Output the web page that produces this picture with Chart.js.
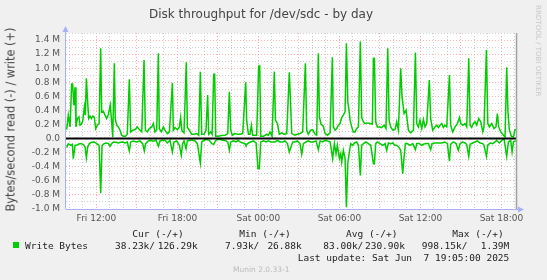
<!DOCTYPE html>
<html>
<head>
<meta charset="utf-8">
<script src="https://cdn.jsdelivr.net/npm/chart.js@4.4.1/dist/chart.umd.min.js"></script>
<style>
  body { margin: 0; background: #f0f0f0; }
  #wrap { position: relative; width: 547px; height: 280px; font-family: 'DejaVu Sans', sans-serif; }
  #wrap canvas { position: absolute; left: 0; top: 0; }
  .t { position: absolute; white-space: pre; line-height: 1; }
  .mono { font-family: 'DejaVu Sans Mono', monospace; font-size: 9.5px; color: #222; }
  #title { left: 149px; top: 8px; font-size: 12px; color: #444; }
  #ylab { left: 0; top: 0; width: 185px; text-align: center; font-size: 11.4px; color: #444;
          transform-origin: 0 0; transform: translate(5.5px, 212px) rotate(-90deg); }
  #rrd { left: 535px; top: 5px; font-size: 7.1px; color: #c8c8c8; writing-mode: vertical-rl; }
  #swatch { position: absolute; left: 13px; top: 242px; width: 6px; height: 6px; background: #00cc00; }
  #munin { left: 233px; top: 266px; font-size: 7.5px; color: #bbb; }
</style>
</head>
<body>
<div id="wrap">
  <canvas id="diskChart" width="547" height="280"></canvas>
  <div class="t" id="title">Disk throughput for /dev/sdc - by day</div>
  <div class="t" id="ylab">Bytes/second read (-) / write (+)</div>
  <div class="t" id="rrd">RRDTOOL / TOBI OETIKER</div>

  <div class="t mono" style="left:132.3px; top:229px">Cur (-/+)</div>
  <div class="t mono" style="left:239.3px; top:229px">Min (-/+)</div>
  <div class="t mono" style="left:346px; top:229px">Avg (-/+)</div>
  <div class="t mono" style="left:452.3px; top:229px">Max (-/+)</div>

  <div id="swatch"></div>
  <div class="t mono" style="left:25px; top:241px">Write Bytes</div>
  <div class="t mono" style="left:115px; top:241px">38.23k/</div>
  <div class="t mono" style="right:349.3px; top:241px">126.29k</div>
  <div class="t mono" style="left:225px; top:241px">7.93k/</div>
  <div class="t mono" style="right:245.3px; top:241px">26.88k</div>
  <div class="t mono" style="left:323.3px; top:241px">83.00k/</div>
  <div class="t mono" style="right:142px; top:241px">230.90k</div>
  <div class="t mono" style="left:421.7px; top:241px">998.15k/</div>
  <div class="t mono" style="right:37.7px; top:241px">1.39M</div>

  <div class="t mono" style="right:37.7px; top:252.5px">Last update: Sat Jun  7 19:05:00 2025</div>
  <div class="t" id="munin">Munin 2.0.33-1</div>
</div>
<script>
// time in hours since Fri 00:00, values in kB/s
const writeHours = [
  9.80,9.92,10.05,10.17,10.24,10.34,10.42,10.49,10.59,10.71,
  10.79,10.89,10.99,11.11,11.18,11.26,11.33,11.43,11.53,11.63,
  11.73,11.85,11.95,12.07,12.20,12.32,12.39,12.52,12.64,12.76,
  12.89,13.03,13.13,13.21,13.33,13.40,13.50,13.63,13.75,13.87,
  14.00,14.15,14.29,14.44,14.54,14.69,14.86,15.03,15.18,15.36,
  15.53,15.63,15.78,15.92,16.10,16.22,16.34,16.47,16.59,16.66,
  16.81,16.96,17.08,17.26,17.41,17.63,17.70,17.82,18.00,18.15,
  18.24,18.34,18.49,18.66,18.74,18.89,19.06,19.23,19.43,19.58,
  19.70,19.80,19.97,20.12,20.24,20.32,20.47,20.57,20.69,20.76,
  20.84,21.03,21.28,21.53,21.73,21.85,21.95,22.07,22.24,22.44,
  22.64,22.84,23.06,23.13,23.26,23.38,23.48,23.58,23.75,23.87,
  24.02,24.10,24.17,24.37,24.62,24.74,24.86,25.01,25.18,25.26,
  25.41,25.55,25.73,25.90,26.10,26.29,
  26.47,26.71,26.89,27.08,27.28,27.48,27.58,27.70,27.87,28.02,
  28.20,28.32,28.44,28.52,28.64,28.81,28.94,29.11,29.31,29.48,
  29.55,29.68,29.80,29.92,30.05,30.17,30.29,30.42,30.52,30.62,
  30.71,30.79,30.91,31.03,31.16,31.28,31.41,31.55,31.65,31.78,
  31.90,32.07,32.27,32.44,32.52,32.59,32.69,32.81,32.96,33.13,
  33.31,33.45,33.58,33.68,33.80,33.95,34.12,34.24,34.37,34.54,
  34.64,34.79,34.94,35.11,35.28,35.48,35.63,35.73,35.85,35.97,
  36.10,36.22,36.34,36.47,36.66,36.76,36.91,37.08,37.21,37.33,
  37.45,37.58,37.70,37.82,37.95,38.15,38.24,38.39,38.57,38.74,
  38.89,38.99,39.13,39.31,39.43,39.58,39.68,39.80,39.92,40.05,
  40.17,40.32,40.47,40.62,40.71,40.89,40.99,41.11,41.28,41.45,
  41.60,41.70,41.80,41.95,42.15,42.27,42.39,42.49,42.59,42.74,
  42.89,43.01,43.08
];
const writeKB = [
  128,333,166,775,775,476,728,166,285,309,
  190,204,252,452,333,856,594,285,319,285,
  319,300,143,190,214,1284,380,390,333,285,
  347,476,238,24,1070,285,190,166,119,48,
  33,33,62,842,95,119,128,166,128,95,
  1117,119,95,143,166,214,95,128,1213,143,
  95,166,119,71,95,794,119,157,128,166,
  300,109,81,1084,157,119,62,62,71,48,
  951,62,62,119,618,62,95,62,913,913,
  33,33,43,48,71,666,119,48,71,62,
  62,71,799,262,62,62,190,48,48,48,
  1032,1032,33,33,62,48,95,33,951,262,
  214,62,81,62,71,942,
  71,48,62,71,95,1070,119,62,119,128,
  62,48,1213,309,204,176,71,48,81,1155,
  166,119,143,190,214,300,333,380,1355,523,
  404,262,166,95,95,143,166,1379,300,238,
  214,223,214,204,1141,1141,238,166,166,157,
  190,143,1284,262,166,119,128,238,119,999,
  594,357,404,119,81,119,1222,214,166,262,
  143,271,166,214,832,285,119,166,190,157,
  190,214,157,190,166,903,190,95,166,214,
  300,214,190,214,166,1141,190,157,214,238,
  190,285,238,95,166,1260,214,166,214,143,
  166,357,166,95,48,24,1013,357,119,33,
  24,128,126
];

const readHours = [
  9.80,9.92,10.10,10.22,10.29,10.42,10.54,10.66,10.84,11.03,
  11.16,11.26,11.36,11.48,11.65,11.85,12.02,12.20,12.32,12.42,
  12.57,12.71,12.89,13.01,13.13,13.26,13.45,13.63,13.80,13.95,
  14.12,14.29,14.44,14.54,14.74,14.99,15.23,15.43,15.55,15.65,
  15.85,16.02,16.22,16.42,16.59,16.71,16.91,17.08,17.26,17.45,
  17.63,17.75,17.95,18.15,18.29,18.39,18.49,18.64,18.74,18.94,
  19.13,19.31,19.48,19.70,19.80,19.97,20.17,20.37,20.54,20.69,
  20.81,20.96,21.16,21.36,21.53,21.73,21.85,21.95,22.15,22.34,
  22.52,22.64,22.84,23.01,23.08,23.26,23.43,23.63,23.83,23.97,
  24.07,24.17,24.37,24.57,24.74,24.91,25.11,25.23,25.41,25.60,
  25.80,25.97,26.15,26.29,
  26.54,26.71,26.89,27.08,27.21,27.33,27.53,27.70,27.87,28.07,
  28.27,28.44,28.57,28.76,28.94,29.11,29.31,29.43,29.50,29.63,
  29.75,29.85,30.00,30.10,30.17,30.29,30.42,30.52,30.62,30.74,
  30.84,30.99,31.11,31.28,31.41,31.55,31.65,31.78,31.97,32.15,
  32.32,32.52,32.59,32.69,32.81,33.01,33.21,33.38,33.50,33.63,
  33.80,33.95,34.12,34.24,34.39,34.54,34.69,34.79,34.89,35.03,
  35.23,35.43,35.63,35.73,35.92,36.10,36.22,36.42,36.59,36.76,
  36.86,37.08,37.33,37.58,37.82,38.00,38.15,38.24,38.44,38.64,
  38.81,38.94,39.13,39.31,39.43,39.58,39.68,39.87,40.05,40.22,
  40.42,40.62,40.71,40.89,40.99,41.16,41.36,41.53,41.65,41.85,
  42.02,42.20,42.39,42.52,42.69,42.79,42.89,43.03,43.08
];
const readKB = [
  -128,-71,-95,-81,-285,-95,-95,-81,-71,-81,
  -119,-271,-119,-71,-52,-48,-71,-95,-775,-95,
  -71,-62,-71,-109,-71,-48,-52,-62,-52,-48,
  -62,-48,-176,-48,-33,-48,-33,-71,-176,-71,
  -33,-24,-38,-24,-109,-33,-24,-24,-62,-24,
  -190,-48,-33,-95,-238,-71,-33,-143,-33,-24,
  -24,-33,-71,-347,-48,-24,-14,-24,-71,-81,
  -33,-14,-14,-24,-24,-48,-166,-48,-33,-48,
  -24,-48,-62,-71,-95,-62,-48,-33,-62,-428,
  -428,-48,-33,-48,-33,-48,-48,-48,-24,-48,
  -48,-33,-71,-190,
  -48,-48,-33,-71,-223,-71,-48,-33,-48,-48,
  -33,-157,-33,-48,-24,-33,-48,-190,-285,-71,
  -214,-95,-285,-214,-333,-166,-285,-975,-357,-190,
  -71,-95,-62,-48,-95,-523,-95,-71,-48,-71,
  -95,-357,-357,-71,-48,-71,-95,-71,-166,-62,
  -71,-62,-95,-95,-119,-166,-499,-262,-71,-71,
  -95,-71,-157,-71,-71,-95,-81,-71,-71,-157,
  -71,-62,-62,-62,-48,-71,-319,-81,-48,-71,
  -166,-71,-48,-62,-81,-252,-81,-62,-48,-33,
  -62,-71,-95,-252,-95,-62,-71,-48,-24,-62,
  -24,-8,-252,-48,-24,-190,-48,-33,-38
];

const xTickHours = [12, 18, 24, 30, 36, 42];
const xTickLabels = ['Fri 12:00', 'Fri 18:00', 'Sat 00:00', 'Sat 06:00', 'Sat 12:00', 'Sat 18:00'];
const yTickValues = [-1000, -800, -600, -400, -200, 0, 200, 400, 600, 800, 1000, 1200, 1400];
const yTickLabels = ['-1.0 M', '-0.8 M', '-0.6 M', '-0.4 M', '-0.2 M', '0.0', '0.2 M', '0.4 M', '0.6 M', '0.8 M', '1.0 M', '1.2 M', '1.4 M'];

const majorGrid = 'rgba(255, 110, 110, 0.55)';
const minorGrid = '#cfcfcf';
const axisColor = '#a8b0f8';

Chart.defaults.font.family = "'DejaVu Sans', sans-serif";
Chart.defaults.font.size = 9;
Chart.defaults.color = '#555';

// white plot area, zero rule, munin style axes
const muninFrame = {
  id: 'muninFrame',
  beforeDraw(chart) {
    const { ctx, chartArea: a } = chart;
    ctx.save();
    ctx.fillStyle = '#fff';
    ctx.fillRect(a.left, a.top, a.right - a.left, a.bottom - a.top);
    ctx.restore();
  },
  afterDatasetsDraw(chart) {
    const { ctx, chartArea: a } = chart;
    const y0 = chart.scales.y.getPixelForValue(0);
    ctx.save();
    ctx.strokeStyle = '#000';
    ctx.lineWidth = 2;
    ctx.beginPath();
    ctx.moveTo(a.left, y0);
    ctx.lineTo(a.right, y0);
    ctx.stroke();
    ctx.restore();
  },
  afterDraw(chart) {
    const { ctx, chartArea: a } = chart;
    ctx.save();
    // right edge
    ctx.strokeStyle = '#a0a0a0';
    ctx.lineWidth = 1.5;
    ctx.beginPath();
    ctx.moveTo(a.right + 0.5, a.top);
    ctx.lineTo(a.right + 0.5, a.bottom);
    ctx.stroke();
    // axes
    ctx.strokeStyle = axisColor;
    ctx.fillStyle = axisColor;
    ctx.lineWidth = 1;
    ctx.beginPath();
    ctx.moveTo(a.left - 0.5, a.bottom);
    ctx.lineTo(a.left - 0.5, a.top - 3);
    ctx.moveTo(a.left, a.bottom + 0.5);
    ctx.lineTo(a.right + 3, a.bottom + 0.5);
    ctx.stroke();
    ctx.beginPath();
    ctx.moveTo(a.left - 3.5, a.top - 1);
    ctx.lineTo(a.left + 2.5, a.top - 1);
    ctx.lineTo(a.left - 0.5, a.top - 7);
    ctx.closePath();
    ctx.fill();
    ctx.beginPath();
    ctx.moveTo(a.right + 2, a.bottom - 2.5);
    ctx.lineTo(a.right + 2, a.bottom + 3.5);
    ctx.lineTo(a.right + 8, a.bottom + 0.5);
    ctx.closePath();
    ctx.fill();
    ctx.restore();
  }
};

const ctxDisk = document.getElementById('diskChart');
new Chart(ctxDisk, {
  type: 'line',
  data: {
    datasets: [
      {
        label: 'Write Bytes',
        data: writeHours.map((h, i) => ({ x: h, y: writeKB[i] })),
        borderColor: '#00cc00',
        borderWidth: 1.5,
        pointRadius: 0,
        fill: false
      },
      {
        label: 'Read Bytes',
        data: readHours.map((h, i) => ({ x: h, y: readKB[i] })),
        borderColor: '#00cc00',
        borderWidth: 1.5,
        pointRadius: 0,
        fill: false
      }
    ]
  },
  options: {
    responsive: false,
    animation: false,
    layout: { padding: { top: 33, right: 31, left: 0, bottom: 0 } },
    plugins: { legend: { display: false }, tooltip: { enabled: false } },
    scales: {
      x: {
        type: 'linear',
        min: 9.75,
        max: 43.08,
        afterBuildTicks: (s) => {
          const t = [];
          for (let h = 10; h <= 43; h++) t.push({ value: h });
          s.ticks = t;
        },
        afterFit: (s) => { s.height = 71; },
        grid: { color: (c) => (c.tick.value % 3 === 0 ? majorGrid : minorGrid), drawTicks: false },
        border: { display: false, dash: [1, 2] },
        ticks: {
          autoSkip: false,
          maxRotation: 0,
          padding: 4,
          callback: (v) => {
            const i = xTickHours.indexOf(v);
            return i >= 0 ? xTickLabels[i] : '';
          }
        }
      },
      y: {
        min: -1000,
        max: 1500,
        afterBuildTicks: (s) => {
          const t = [];
          for (let v = -1000; v <= 1500; v += 100) t.push({ value: v });
          s.ticks = t;
        },
        afterFit: (s) => { s.width = 66; },
        grid: { color: (c) => (c.tick.value % 200 === 0 ? majorGrid : minorGrid), drawTicks: false },
        border: { display: false, dash: [1, 2] },
        ticks: {
          autoSkip: false,
          padding: 6,
          callback: (v) => {
            const i = yTickValues.indexOf(v);
            return i >= 0 ? yTickLabels[i] : '';
          }
        }
      }
    }
  },
  plugins: [muninFrame]
});
</script>
</body>
</html>
